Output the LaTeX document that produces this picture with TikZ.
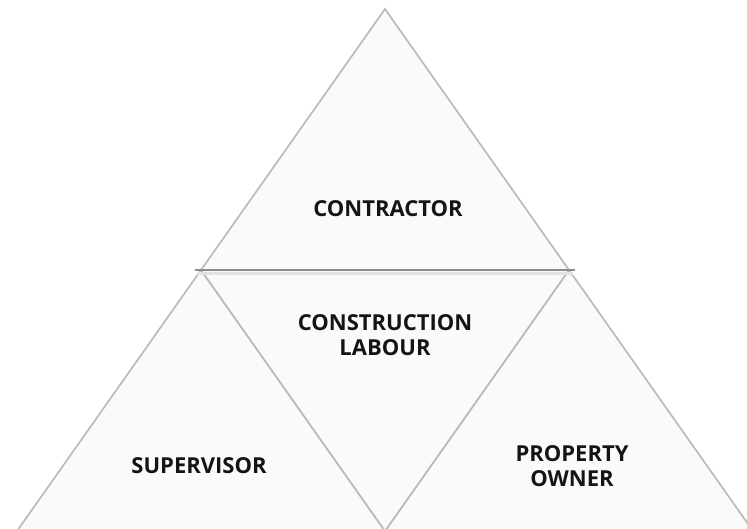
\documentclass[tikz,border=0pt]{standalone}
\usepackage{fontspec}
\setmainfont{Open Sans}
\definecolor{facegray}{HTML}{FAFAFA}
\definecolor{edgegray}{HTML}{B8B8B8}
\definecolor{rulegray}{HTML}{8C8C8C}
\definecolor{bandgray}{HTML}{E2E2E2}
\definecolor{inkgray}{HTML}{141414}
\begin{document}
\begin{tikzpicture}[x=1pt,y=-1pt,
    side/.style={draw=edgegray, line width=1.6pt, fill=facegray, line join=miter},
    lbl/.style={font=\bfseries\fontsize{22}{25}\selectfont, align=center, text=inkgray}]
  \useasboundingbox (0,0) rectangle (747,528);
  \clip (0,0) rectangle (747,528);
  % corners of the four triangles
  \coordinate (apex) at (385,9);
  \coordinate (midL) at (201,270);
  \coordinate (midR) at (569,270);
  \coordinate (botL) at (17,531);
  \coordinate (botM) at (385,531);
  \coordinate (botR) at (753,531);
  % top, left and right triangles
  \draw[side] (apex) -- (midR) -- (midL) -- cycle;
  \draw[side] (midL) -- (botM) -- (botL) -- cycle;
  \draw[side] (midR) -- (botR) -- (botM) -- cycle;
  % inverted triangle in the middle
  \draw[side] (midL) -- (midR) -- (botM) -- cycle;
  % darker rule along the middle
  \fill[bandgray] (197,271.5) rectangle (573,275);
  \draw[rulegray, line width=2pt] (195,270) -- (575,270);
  % labels
  \node[lbl] (contractor) at (388,209) {CONTRACTOR};
  \node[lbl] (labour) at (385,335) {CONSTRUCTION\\LABOUR};
  \node[lbl] (supervisor) at (199,466) {SUPERVISOR};
  \node[lbl] (owner) at (572,466) {PROPERTY\\OWNER};
\end{tikzpicture}
\end{document}
